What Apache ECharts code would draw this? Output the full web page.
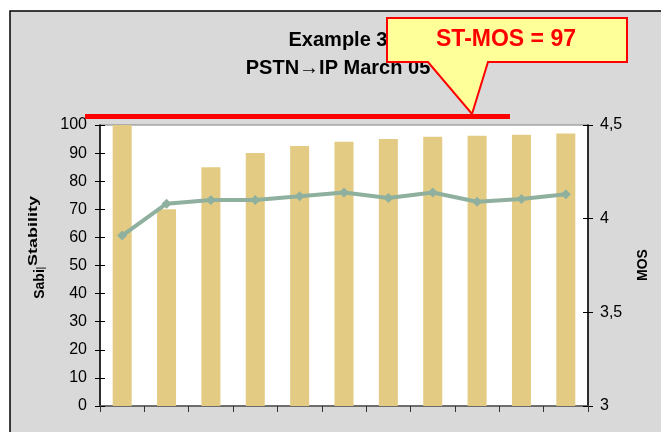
<!DOCTYPE html>
<html>
<head>
<meta charset="utf-8">
<script src="https://cdn.jsdelivr.net/npm/echarts@6/dist/echarts.min.js"></script>
<style>
  html, body { margin: 0; padding: 0; background: #fff; }
  #chart { width: 661px; height: 432px; }
</style>
</head>
<body>
<div id="chart"></div>
<script>
// data
const categories = ['1', '2', '3', '4', '5', '6', '7', '8', '9', '10', '11'];
const stability = [100, 70, 85, 90, 92.5, 94, 95, 95.8, 96.2, 96.5, 97];
const mos = [3.91, 4.08, 4.10, 4.10, 4.12, 4.14, 4.11, 4.14, 4.09, 4.105, 4.13];
const titleLines = ['Example 3', 'PSTN\u2192IP March 05'];
const calloutText = 'ST-MOS = 97';

const FONT = '"Liberation Sans", Arial, sans-serif';

const myChart = echarts.init(document.getElementById('chart'));

const option = {
  animation: false,
  backgroundColor: '#fff',
  grid: {
    left: 100,
    right: 73,
    top: 125,
    bottom: 26,
    show: true,
    backgroundColor: '#fff',
    borderColor: '#808080',
    borderWidth: 1
  },
  xAxis: {
    type: 'category',
    data: categories,
    boundaryGap: true,
    axisLine: {lineStyle: {color: '#555', width: 1.5}},
    axisTick: {show: true, interval: 0, length: 6, lineStyle: {color: '#333'}},
    axisLabel: {show: false},
    splitLine: {show: false}
  },
  yAxis: [
    { // left, outside ticks + labels
      type: 'value',
      position: 'left',
      min: 0,
      max: 100,
      interval: 10,
      axisLine: {show: true, lineStyle: {color: '#000', width: 1.5}},
      axisTick: {show: true, length: 5, lineStyle: {color: '#000'}},
      axisLabel: {color: '#000', fontSize: 16, fontFamily: FONT, margin: 13},
      splitLine: {show: false}
    },
    { // right MOS
      type: 'value',
      position: 'right',
      min: 3,
      max: 4.5,
      interval: 0.5,
      axisLine: {show: true, lineStyle: {color: '#000', width: 1.5}},
      axisTick: {show: true, length: 5, lineStyle: {color: '#000'}},
      axisLabel: {
        color: '#000', fontSize: 16, fontFamily: FONT, margin: 12,
        formatter: (v) => String(v).replace('.', ',')
      },
      splitLine: {show: false}
    },
    { // left inside ticks
      type: 'value',
      position: 'left',
      min: 0,
      max: 100,
      interval: 10,
      axisLine: {show: false},
      axisTick: {show: true, inside: true, length: 5, lineStyle: {color: '#000'}},
      axisLabel: {show: false},
      splitLine: {show: false}
    },
    { // right inside ticks
      type: 'value',
      position: 'right',
      min: 3,
      max: 4.5,
      interval: 0.5,
      axisLine: {show: false},
      axisTick: {show: true, inside: true, length: 5, lineStyle: {color: '#000'}},
      axisLabel: {show: false},
      splitLine: {show: false}
    }
  ],
  series: [
    {
      name: 'Stability',
      type: 'bar',
      data: stability,
      yAxisIndex: 0,
      barWidth: 19,
      itemStyle: {color: '#e4cb84'}
    },
    {
      name: 'MOS',
      type: 'line',
      data: mos,
      yAxisIndex: 1,
      symbol: 'diamond',
      symbolSize: 10,
      lineStyle: {color: '#8fb09e', width: 4},
      itemStyle: {color: '#8fb09e'},
      z: 5
    }
  ],
  graphic: [
    { // gray frame behind everything
      type: 'rect',
      z: -10,
      silent: true,
      shape: {x: 10, y: 11, width: 700, height: 500},
      style: {fill: '#d9d9d9', stroke: '#000', lineWidth: 1.5}
    },
    {
      type: 'text',
      z: 1,
      x: 338,
      y: 40,
      style: {text: titleLines[0], font: 'bold 20px ' + FONT, fill: '#000', align: 'center', verticalAlign: 'middle'}
    },
    {
      type: 'text',
      z: 1,
      x: 338,
      y: 68,
      style: {text: titleLines[1], font: 'bold 20px ' + FONT, fill: '#000', align: 'center', verticalAlign: 'middle'}
    },
    // left axis name
    {
      type: 'text',
      z: 1,
      x: 40,
      y: 284,
      rotation: Math.PI / 2,
      style: {text: 'Sabi', font: 'bold 14px ' + FONT, fill: '#000', align: 'center', verticalAlign: 'middle'}
    },
    {
      type: 'text',
      z: 1,
      x: 41,
      y: 268,
      rotation: Math.PI / 2,
      style: {text: '|', font: '11px ' + FONT, fill: '#000', align: 'center', verticalAlign: 'middle'}
    },
    {
      type: 'text',
      z: 1,
      x: 34,
      y: 231,
      rotation: Math.PI / 2,
      scaleX: 1.5,
      style: {text: 'Stability', font: 'bold 12px ' + FONT, fill: '#000', align: 'center', verticalAlign: 'middle'}
    },
    // right axis name
    {
      type: 'text',
      z: 1,
      x: 643,
      y: 265,
      rotation: Math.PI / 2,
      style: {text: 'MOS', font: 'bold 14px ' + FONT, fill: '#000', align: 'center', verticalAlign: 'middle'}
    },
    // callout
    {
      type: 'polygon',
      z: 50,
      shape: {
        points: [[387, 18], [627, 18], [627, 62], [488, 62], [472, 114], [428, 62], [387, 62]]
      },
      style: {fill: '#ffff99', stroke: '#ff0000', lineWidth: 2}
    },
    {
      type: 'text',
      z: 51,
      x: 506,
      y: 40,
      style: {text: calloutText, font: 'bold 23px ' + FONT, fill: '#ff0000', align: 'center', verticalAlign: 'middle'}
    },
    // red target line
    {
      type: 'line',
      z: 52,
      shape: {x1: 85, y1: 116.5, x2: 510, y2: 116.5},
      style: {stroke: '#ff0000', lineWidth: 5}
    }
  ]
};

myChart.setOption(option);
</script>
</body>
</html>
